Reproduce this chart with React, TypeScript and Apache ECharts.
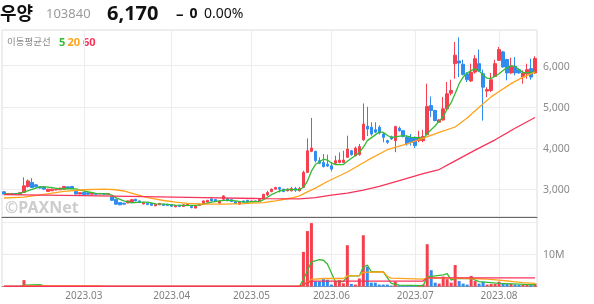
import React, { useEffect, useRef } from 'react';
import * as echarts from 'echarts';

const FONT = "'Noto Sans', 'Noto Sans CJK KR', sans-serif";

const months = ['2023.02', '2023.03', '2023.04', '2023.05', '2023.06', '2023.07', '2023.08'];
const monthDays = [20, 22, 20, 20, 21, 21, 10];

const opens = [
  2940, 2875, 2880, 2900, 2880, 2925, 3065, 3165, 3110, 3060, 3045, 2950, 2965, 2985, 2990, 3005, 3060, 3070, 2950, 2885,
  2925, 2915, 2880, 2900, 2885, 2900, 2880, 2815, 2760, 2680, 2665, 2670, 2690, 2760, 2720, 2645, 2665, 2660, 2600, 2625,
  2640, 2640, 2625, 2575, 2615, 2585, 2605, 2590, 2545, 2610, 2655, 2690, 2770, 2755, 2665, 2760, 2775, 2750, 2700, 2640,
  2720, 2735, 2700, 2720, 2705, 2785, 2865, 2945, 3005, 3045, 3005, 2965, 2965, 3020, 2965, 3045, 3410, 3920, 3920, 3695,
  3650, 3610, 3570, 3630, 3650, 3650, 3775, 3935, 3815, 3840, 4200, 4530, 4505, 4445, 4505, 4340, 4180, 4275, 4180, 4480,
  4420, 4260, 4260, 4260, 4180, 4180, 4325, 5030, 4910, 4625, 4680, 4950, 5330, 6045, 6110, 6030, 5800, 5625, 5840, 6045,
  5800, 5380, 5395, 5735, 6125, 6330, 6145, 5820, 5980, 5900, 5720, 5800, 5925, 5820,
];
const closes = [
  2885, 2900, 2900, 2885, 2920, 3085, 3205, 3045, 3060, 3030, 3005, 3005, 3005, 3000, 3030, 3070, 3020, 3025, 2885, 2920,
  2870, 2880, 2905, 2880, 2900, 2880, 2895, 2735, 2640, 2625, 2640, 2720, 2750, 2720, 2680, 2680, 2630, 2615, 2640, 2660,
  2610, 2610, 2590, 2605, 2585, 2625, 2640, 2560, 2605, 2640, 2720, 2735, 2720, 2705, 2720, 2840, 2720, 2705, 2655, 2705,
  2690, 2690, 2720, 2700, 2760, 2880, 2925, 3005, 3045, 3005, 2950, 3005, 3020, 2980, 3020, 3410, 3935, 4000, 3695, 3630,
  3550, 3565, 3490, 3695, 3710, 3710, 3975, 3840, 4000, 4035, 4580, 4460, 4340, 4385, 4365, 4260, 4140, 4220, 4520, 4420,
  4280, 4100, 4140, 4060, 4260, 4280, 5005, 4910, 4665, 4680, 4950, 5315, 5395, 6250, 6060, 5785, 5655, 5840, 6165, 5865,
  5475, 5420, 5655, 6045, 6385, 5965, 5820, 5990, 5820, 5820, 5820, 5900, 5720, 6170,
];
const lows = [
  2875, 2870, 2875, 2875, 2875, 2920, 3045, 3030, 3045, 3020, 2995, 2945, 2960, 2975, 2985, 3000, 3015, 3020, 2880, 2880,
  2865, 2875, 2875, 2875, 2880, 2875, 2870, 2725, 2630, 2615, 2630, 2665, 2685, 2710, 2670, 2640, 2620, 2605, 2595, 2620,
  2600, 2600, 2580, 2570, 2575, 2580, 2600, 2540, 2540, 2600, 2650, 2685, 2715, 2700, 2660, 2735, 2715, 2700, 2650, 2635,
  2685, 2685, 2695, 2695, 2700, 2780, 2840, 2930, 2990, 2925, 2930, 2950, 2950, 2940, 2950, 3030, 3400, 3900, 3650, 3610,
  3530, 3545, 3435, 3610, 3630, 3640, 3760, 3815, 3800, 3815, 4170, 4290, 4300, 4360, 4330, 4140, 4100, 4200, 3900, 4400,
  4260, 4060, 4060, 4000, 4140, 4140, 4325, 4750, 4650, 4610, 4665, 4910, 5275, 5680, 5720, 5760, 5600, 5600, 5800, 5840,
  4665, 5235, 5355, 5720, 6110, 5950, 5640, 5800, 5760, 5800, 5560, 5680, 5655, 5800,
];
const highs = [
  2950, 2910, 2905, 2905, 2925, 3290, 3240, 3270, 3125, 3070, 3050, 3010, 3015, 3010, 3035, 3075, 3065, 3075, 2955, 2925,
  2930, 2920, 2910, 2905, 2905, 2905, 2900, 2830, 2770, 2690, 2670, 2725, 2760, 2770, 2725, 2690, 2670, 2665, 2645, 2665,
  2645, 2645, 2630, 2610, 2620, 2630, 2645, 2595, 2610, 2650, 2725, 2740, 2775, 2760, 2725, 2860, 2780, 2755, 2705, 2710,
  2725, 2740, 2725, 2725, 2765, 2890, 2965, 3020, 3060, 3060, 3010, 3020, 3060, 3060, 3060, 3450, 4235, 4730, 3935, 3775,
  3855, 3840, 3650, 3815, 3895, 3935, 4300, 3955, 4035, 4100, 5080, 5000, 4625, 4625, 4550, 4385, 4200, 4300, 4540, 4520,
  4440, 4300, 4340, 4280, 4420, 4440, 5560, 5250, 4925, 4705, 5235, 5600, 5655, 6570, 6680, 6140, 5840, 6045, 6250, 6385,
  5900, 5475, 5820, 6140, 6450, 6355, 6165, 6190, 6205, 5930, 5885, 6045, 6165, 6225,
];
const volumes = [
  42000, 35000, 28000, 22000, 51000, 2000000, 380000, 290000, 120000, 80000, 60000, 70000, 45000, 30000, 40000, 65000, 50000, 40000, 90000, 45000,
  30000, 28000, 32000, 25000, 30000, 27000, 35000, 120000, 150000, 70000, 40000, 50000, 60000, 45000, 40000, 35000, 38000, 42000, 30000, 28000,
  30000, 25000, 32000, 28000, 26000, 30000, 34000, 40000, 45000, 38000, 55000, 50000, 42000, 36000, 40000, 90000, 45000, 38000, 35000, 40000,
  30000, 32000, 28000, 30000, 50000, 80000, 90000, 70000, 60000, 55000, 45000, 40000, 50000, 42000, 48000, 10800000, 17300000, 19800000, 1700000, 1600000,
  2300000, 2100000, 600000, 1700000, 2000000, 1000000, 12900000, 800000, 600000, 2500000, 16000000, 6200000, 1200000, 1200000, 600000, 600000, 600000, 300000, 1500000, 400000,
  400000, 300000, 300000, 400000, 400000, 600000, 13200000, 5100000, 1200000, 900000, 3100000, 2300000, 1200000, 6700000, 1700000, 900000, 600000, 3300000, 1700000, 900000,
  1500000, 600000, 800000, 800000, 1500000, 800000, 800000, 800000, 600000, 500000, 500000, 500000, 600000, 900000,
];

// moving-average lines: [candle index, value]
const ma5Keys: [number, number][] = [
  [0, 2885], [3, 2885], [5, 2930], [7, 3000], [9, 3060], [10, 3065], [12, 3040], [14, 3010], [16, 3020], [18, 3010],
  [20, 2960], [23, 2900], [26, 2890], [27, 2860], [28, 2800], [30, 2720], [32, 2670], [34, 2690], [36, 2690], [38, 2650],
  [40, 2640], [43, 2620], [46, 2610], [48, 2610], [50, 2640], [52, 2690], [54, 2720], [56, 2740], [58, 2720], [60, 2690],
  [62, 2700], [64, 2710], [65, 2750], [67, 2870], [69, 2960], [71, 3000], [74, 2990], [75, 3050], [76, 3200], [77, 3440],
  [78, 3600], [80, 3730], [81, 3710], [82, 3640], [83, 3600], [85, 3600], [86, 3680], [88, 3820], [89, 3900], [90, 4020],
  [91, 4180], [93, 4320], [94, 4390], [95, 4380], [96, 4310], [97, 4250], [98, 4270], [100, 4300], [101, 4290], [102, 4260],
  [104, 4250], [105, 4220], [106, 4350], [108, 4540], [110, 4760], [111, 4950], [112, 5100], [113, 5320], [114, 5560], [115, 5720],
  [116, 5820], [117, 5880], [118, 5920], [119, 5870], [120, 5770], [121, 5690], [122, 5690], [123, 5740], [124, 5800], [125, 5880],
  [126, 5950], [127, 5990], [128, 5980], [129, 5900], [130, 5830], [131, 5820], [133, 5850],
];
const ma20Keys: [number, number][] = [
  [0, 2790], [5, 2810], [10, 2880], [15, 2950], [20, 2990], [25, 3005], [28, 2990], [30, 2960], [33, 2880], [36, 2800],
  [40, 2730], [43, 2690], [46, 2660], [50, 2640], [55, 2640], [60, 2655], [65, 2680], [68, 2720], [72, 2790], [74, 2840],
  [76, 2940], [78, 3030], [81, 3190], [86, 3420], [91, 3700], [96, 3960], [101, 4100], [105, 4240], [109, 4380], [113, 4510],
  [116, 4730], [119, 4990], [122, 5240], [124, 5370], [127, 5560], [130, 5720], [133, 5840],
];
const ma60Keys: [number, number][] = [
  [0, 2870], [20, 2850], [35, 2825], [50, 2800], [65, 2775], [74, 2770], [78, 2800], [82, 2860], [86, 2910], [90, 2980],
  [94, 3070], [99, 3210], [105, 3380], [109, 3480], [113, 3690], [118, 3950], [123, 4200], [128, 4480], [133, 4740],
];
const vma5Keys: [number, number][] = [
  [0, 40000], [4, 40000], [5, 450000], [9, 560000], [10, 190000], [12, 60000], [74, 50000], [75, 2200000], [77, 7700000], [79, 8400000],
  [80, 8200000], [81, 7000000], [83, 1500000], [85, 1500000], [86, 3300000], [89, 3300000], [90, 6000000], [91, 6700000], [92, 4600000], [95, 4600000],
  [97, 1000000], [99, 400000], [105, 300000], [106, 3000000], [110, 3600000], [111, 4000000], [112, 2000000], [113, 2500000], [117, 2500000], [119, 1500000],
  [124, 1000000], [133, 500000],
];
const vma20Keys: [number, number][] = [
  [0, 60000], [4, 60000], [5, 150000], [24, 150000], [25, 60000], [74, 60000], [75, 600000], [77, 2200000], [80, 2500000], [85, 2500000],
  [86, 3300000], [89, 3400000], [90, 4400000], [95, 4600000], [96, 3200000], [97, 2600000], [105, 2300000], [106, 2700000], [112, 2600000], [117, 2500000],
  [121, 2300000], [124, 2000000], [127, 1600000], [130, 1200000], [133, 1000000],
];
const vma60Keys: [number, number][] = [
  [0, 80000], [74, 80000], [75, 600000], [76, 1200000], [77, 1700000], [105, 1700000], [106, 2700000], [133, 2700000],
];

const UP = '#f5414f';
const DOWN = '#2f8cf0';
const C5 = '#33bb33';
const C20 = '#ffa31a';
const C60 = '#f8335a';

const categories: string[] = [];
const monthStart = new Set<number>();
months.forEach((m, k) => {
  if (k > 0) monthStart.add(categories.length);
  for (let d = 0; d < monthDays[k]; d++) categories.push(m + '-' + (d + 1));
});

function sparse(keys: [number, number][]) {
  const arr: (number | null)[] = categories.map(() => null);
  keys.forEach(([i, v]) => { arr[i] = v; });
  return arr;
}

const isStart = (index: number) => monthStart.has(index);

function lineSeries(keys: [number, number][], color: string, axis: number) {
  return {
    type: 'line', xAxisIndex: axis, yAxisIndex: axis, data: sparse(keys), connectNulls: true,
    symbol: 'none', silent: true, lineStyle: { color, width: 1.3 }, z: 4,
  };
}

export default function App() {
  const ref = useRef<HTMLDivElement>(null);
  useEffect(() => {
    if (!ref.current) return;
    const chart = echarts.init(ref.current, undefined, { renderer: 'svg' });
    const splitLine = { show: true, interval: isStart, alignWithLabel: true, lineStyle: { color: '#ececec' } };
    chart.setOption({
      animation: false,
      textStyle: { fontFamily: FONT },
      grid: [
        { left: 2, right: 57, top: 30, height: 187, show: true, borderColor: '#dcdcdc', borderWidth: 1 },
        { left: 2, right: 57, top: 217, height: 69.5, show: true, borderColor: '#dcdcdc', borderWidth: 1 },
      ],
      xAxis: [
        {
          type: 'category', gridIndex: 0, data: categories, boundaryGap: true,
          axisLine: { show: true, lineStyle: { color: '#666' } }, axisTick: { show: false },
          axisLabel: { show: false }, splitLine,
        },
        {
          type: 'category', gridIndex: 1, data: categories, boundaryGap: true,
          axisLine: { show: true, lineStyle: { color: '#999' } }, axisTick: { show: false },
          axisLabel: {
            interval: isStart, formatter: (v: string) => v.split('-')[0],
            color: '#808080', fontSize: 10, margin: 3,
          },
          splitLine,
        },
      ],
      yAxis: [
        {
          type: 'value', gridIndex: 0, position: 'right', min: 2330, max: 6860, splitNumber: 5,
          axisLine: { show: false }, axisTick: { show: false },
          axisLabel: {
            color: '#8a8a8a', fontSize: 10.5, margin: 6, showMinLabel: false, showMaxLabel: false,
            formatter: (v: number) => v.toLocaleString('en-US'),
          },
          splitLine: { lineStyle: { color: '#ececec' } },
        },
        {
          type: 'value', gridIndex: 1, position: 'right', min: 0, max: 21700000, interval: 10000000,
          axisLine: { show: false }, axisTick: { show: false },
          axisLabel: {
            color: '#8a8a8a', fontSize: 10.5, margin: 6, showMaxLabel: false,
            formatter: (v: number) => (v === 10000000 ? '10M' : ''),
          },
          splitLine: { lineStyle: { color: '#ececec' } },
        },
      ],
      graphic: [
        { type: 'text', x: 0, y: 12, style: { text: '우양', fill: '#111', fontSize: 18, fontWeight: 'bold', fontFamily: "'Noto Sans CJK KR'", verticalAlign: 'middle' } },
        { type: 'text', x: 46, y: 12.5, style: { text: '103840', fill: '#9a9a9a', fontSize: 13, fontFamily: FONT, verticalAlign: 'middle' } },
        { type: 'text', x: 107, y: 12, style: { text: '6,170', fill: '#111', fontSize: 20, fontWeight: 'bold', fontFamily: FONT, verticalAlign: 'middle' } },
        { type: 'text', x: 176, y: 12.5, style: { text: '–', fill: '#111', fontSize: 15, fontWeight: 'bold', fontFamily: FONT, verticalAlign: 'middle' } },
        { type: 'text', x: 189.5, y: 12.5, style: { text: '0', fill: '#111', fontSize: 14, fontWeight: 'bold', fontFamily: FONT, verticalAlign: 'middle' } },
        { type: 'text', x: 204, y: 12.5, style: { text: '0.00%', fill: '#111', fontSize: 14, fontFamily: FONT, verticalAlign: 'middle' } },
        { type: 'text', x: 7, y: 41, style: { text: '이동평균선', fill: '#8a8a8a', fontSize: 9.5, fontFamily: "'Noto Sans CJK KR'", verticalAlign: 'middle' } },
        { type: 'text', x: 59, y: 41, style: { text: '5', fill: C5, fontSize: 11, fontWeight: 'bold', fontFamily: FONT, verticalAlign: 'middle' } },
        { type: 'text', x: 67.5, y: 41, style: { text: '20', fill: C20, fontSize: 11, fontWeight: 'bold', fontFamily: FONT, verticalAlign: 'middle' } },
        { type: 'text', x: 83, y: 41, style: { text: '60', fill: C60, fontSize: 11, fontWeight: 'bold', fontFamily: FONT, verticalAlign: 'middle' } },
        { type: 'text', x: 5, y: 207, z: -1, style: { text: '©PAXNet', fill: '#cdcdcd', fontSize: 16, fontWeight: 'bold', fontFamily: FONT, verticalAlign: 'middle' } },
      ],
      series: [
        {
          type: 'candlestick', xAxisIndex: 0, yAxisIndex: 0, barWidth: 3,
          data: opens.map((o, i) => [o, closes[i], lows[i], highs[i]]),
          itemStyle: { color: UP, color0: DOWN, borderColor: UP, borderColor0: DOWN, borderWidth: 1 },
          z: 3,
        },
        lineSeries(ma5Keys, C5, 0),
        lineSeries(ma20Keys, C20, 0),
        lineSeries(ma60Keys, C60, 0),
        {
          type: 'bar', xAxisIndex: 1, yAxisIndex: 1, barWidth: 3,
          data: volumes.map((v, i) => ({ value: v, itemStyle: { color: closes[i] >= opens[i] ? UP : DOWN } })),
          z: 3,
        },
        lineSeries(vma5Keys, C5, 1),
        lineSeries(vma20Keys, C20, 1),
        lineSeries(vma60Keys, C60, 1),
      ],
    });
    return () => chart.dispose();
  }, []);
  return <div ref={ref} style={{ position: 'fixed', left: 0, top: 0, width: 594, height: 304 }} />;
}
